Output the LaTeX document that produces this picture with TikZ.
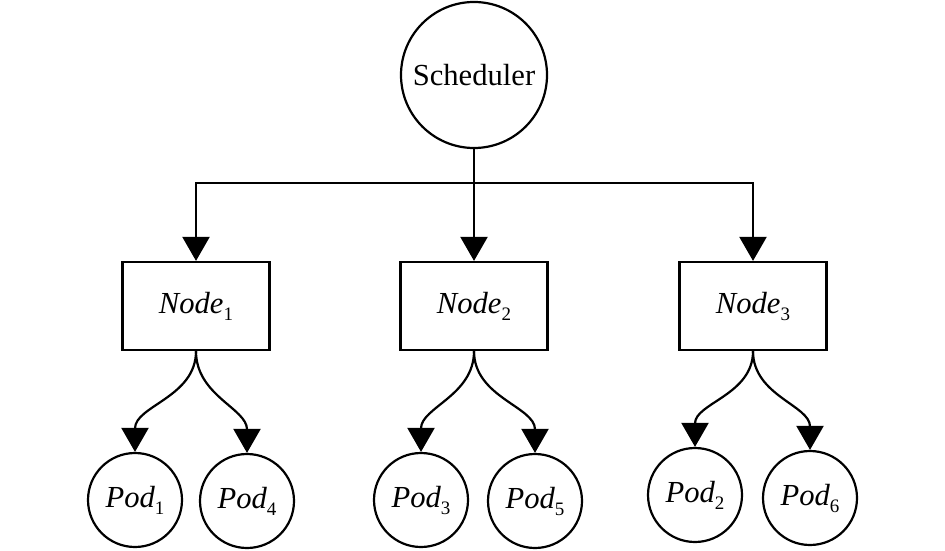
\documentclass[tikz,border=0pt]{standalone}
\usepackage{fontspec}
\setmainfont{Liberation Serif}
\usepackage{tikz}
\usetikzlibrary{
  arrows.meta,
  positioning
}
\newcommand{\lowsub}[1]{\raisebox{-3.5pt}{\fontsize{9.5}{10}\selectfont #1}}

\begin{document}
\begin{tikzpicture}[
  x=0.5pt, y=-0.5pt,
  font=\fontsize{15.3}{17}\selectfont,
  >={Triangle[length=12pt, width=13.5pt]},
  line width=1.1pt,
  sched/.style={draw, circle, minimum size=73pt, inner sep=0pt},
  hostbox/.style={draw, rectangle, minimum width=73.5pt, minimum height=44pt, inner sep=0pt},
  podcirc/.style={draw, circle, minimum size=47pt, inner sep=0pt},
  arr/.style={->},
]
  \useasboundingbox (0,0) rectangle (945,550);

  \node[sched] (sch) at (474,75) {Scheduler};

  \node[hostbox] (n1) at (196,306) {{\itshape Node}\lowsub{1}};
  \node[hostbox] (n2) at (474,306) {{\itshape Node}\lowsub{2}};
  \node[hostbox] (n3) at (753,306) {{\itshape Node}\lowsub{3}};

  \node[podcirc] (p1) at (135,500) {{\itshape Pod}\lowsub{1}};
  \node[podcirc] (p4) at (247,501) {{\itshape Pod}\lowsub{4}};
  \node[podcirc] (p3) at (421,500) {{\itshape Pod}\lowsub{3}};
  \node[podcirc] (p5) at (535,501) {{\itshape Pod}\lowsub{5}};
  \node[podcirc] (p2) at (695,495) {{\itshape Pod}\lowsub{2}};
  \node[podcirc] (p6) at (810,498) {{\itshape Pod}\lowsub{6}};

  % scheduler -> nodes
  \coordinate (bar) at (474,183);
  \draw (sch.south) -- (bar);
  \draw[arr] (bar) -| (n1.north);
  \draw[arr] (bar) -| (n3.north);
  \draw[arr] (sch.south) -- (n2.north);

  % nodes -> pods
  \draw[arr] (n1.south) to[out=-90, in=90] (p1.north);
  \draw[arr] (n1.south) to[out=-90, in=90] (p4.north);
  \draw[arr] (n2.south) to[out=-90, in=90] (p3.north);
  \draw[arr] (n2.south) to[out=-90, in=90] (p5.north);
  \draw[arr] (n3.south) to[out=-90, in=90] (p2.north);
  \draw[arr] (n3.south) to[out=-90, in=90] (p6.north);
\end{tikzpicture}
\end{document}
